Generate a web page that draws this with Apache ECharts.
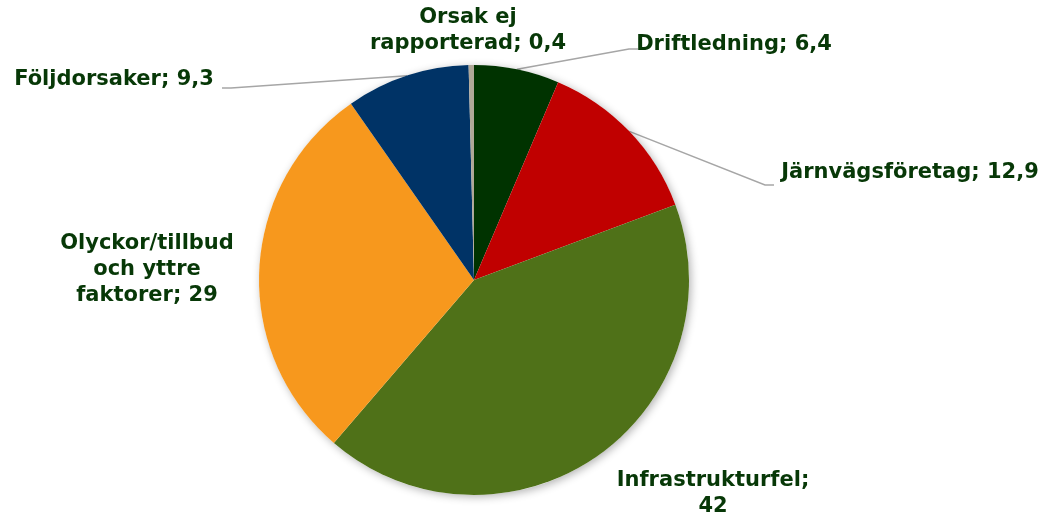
<!DOCTYPE html>
<html>
<head>
<meta charset="utf-8">
<script src="https://cdn.jsdelivr.net/npm/echarts@6/dist/echarts.min.js"></script>
<style>
  html, body { margin: 0; padding: 0; background: #fff; }
  #chart { width: 1048px; height: 518px; }
</style>
</head>
<body>
<div id="chart"></div>
<script>
// orsaker, medurs från toppen
var categories = ['Driftledning', 'Järnvägsföretag', 'Infrastrukturfel', 'Olyckor/tillbud\noch yttre\nfaktorer', 'Följdorsaker', 'Orsak ej\nrapporterad'];
var values = [6.4, 12.9, 42, 29, 9.3, 0.4];
var separators = ['; ', '; ', ';\n', '; ', '; ', '; '];

var colors = ['#003300', '#c00000', '#4f7118', '#f7981d', '#003366', '#b0a898'];
// label centres (x, y)
var labelPos = [[734, 45], [910, 173], [713, 494], [147, 270], [114, 80], [468, 31]];
// where the leader line meets the label (null = no line)
var lineEnd = [[638, 49], [774, 185], null, null, [222, 88], null];

var chart = echarts.init(document.getElementById('chart'));

var data = categories.map(function (name, i) {
    return {
        name: name,
        value: values[i],
        itemStyle: { color: colors[i] },
        labelLine: { show: lineEnd[i] != null }
    };
});

chart.setOption({
    animation: false,
    series: [{
        // soft shadow under the whole pie
        type: 'pie',
        center: [474, 280],
        radius: 215,
        silent: true,
        label: { show: false },
        labelLine: { show: false },
        data: [{ value: 1, itemStyle: { color: '#fff' } }],
        itemStyle: {
            shadowBlur: 8,
            shadowColor: 'rgba(0,0,0,0.3)',
            shadowOffsetX: 2,
            shadowOffsetY: 2
        }
    }, {
        type: 'pie',
        center: [474, 280],
        radius: 215,
        startAngle: 90,
        clockwise: true,
        data: data,
        label: {
            show: true,
            position: 'outside',
            fontFamily: 'DejaVu Sans',
            fontWeight: 'bold',
            fontSize: 21,
            lineHeight: 26,
            color: '#073807',
            align: 'center',
            formatter: function (p) {
                return p.name + separators[p.dataIndex] + String(p.value).replace('.', ',');
            }
        },
        labelLine: {
            show: true,
            length: 10,
            length2: 10,
            smooth: false,
            lineStyle: { color: '#a6a6a6', width: 1.5 }
        },
        labelLayout: function (params) {
            var i = params.dataIndex;
            var p = labelPos[i];
            var out = { x: p[0], y: p[1], align: 'center', verticalAlign: 'middle' };
            var e = lineEnd[i];
            if (e && params.labelLinePoints) {
                // keep the anchor on the slice, bend into a short flat stub at the label
                var a = params.labelLinePoints[0];
                var dir = e[0] > a[0] ? 1 : -1;
                out.labelLinePoints = [a, [e[0] - dir * 9, e[1]], e];
            }
            return out;
        }
    }]
});
</script>
</body>
</html>
